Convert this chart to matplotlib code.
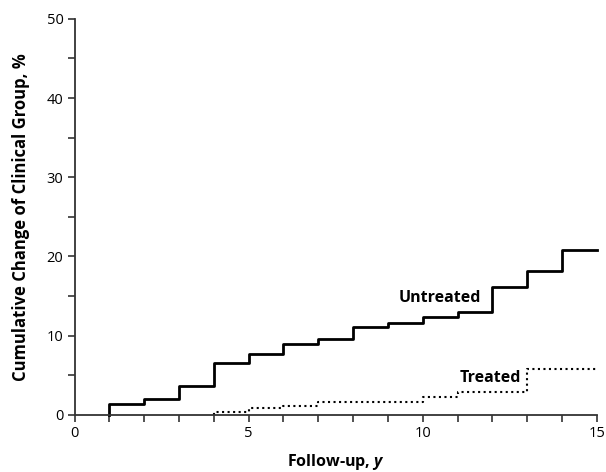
"""
Cumulative change of clinical group, untreated vs treated (step plot).
"""

import matplotlib
matplotlib.use("Agg")
from matplotlib import pyplot as plt
from matplotlib.ticker import MultipleLocator

plt.rcParams['font.family'] = ['Open Sans', 'DejaVu Sans']
plt.rcParams['mathtext.fontset'] = 'custom'
plt.rcParams['mathtext.it'] = 'Open Sans:italic:bold'

# follow-up year where each step begins, and cumulative % after the step
untreated_years = [1, 1, 2, 3, 4, 5, 6, 7, 8, 9, 10, 11, 12, 13, 14, 15]
untreated_pct = [0, 1.4, 2.0, 3.7, 6.5, 7.75, 9.0, 9.55, 11.1, 11.65, 12.3,
                 12.95, 16.2, 18.2, 20.8, 20.8]

treated_years = [4, 4, 5, 6, 7, 8, 9, 10, 11, 12, 13, 14, 15]
treated_pct = [0, 0.4, 0.85, 1.1, 1.65, 1.65, 1.65, 2.3, 2.85, 2.85, 5.75,
               5.75, 5.75]

xticks = [0, 5, 10, 15]
yticks = [0, 10, 20, 30, 40, 50]

fig = plt.figure(figsize=(6.06, 4.72), dpi=100)
ax = fig.add_axes([0.123, 0.121, 0.862, 0.839])

ax.step(untreated_years, untreated_pct, where='post', color='black',
        linewidth=2.0, clip_on=False)
ax.step(treated_years, treated_pct, where='post', color='black',
        linewidth=1.5, linestyle=':', clip_on=False)

# curve labels
ax.text(11.68, 14.8, "Untreated", ha='right', va='center',
        fontsize=11.5, fontweight='bold')
ax.text(12.82, 4.6, "Treated", ha='right', va='center',
        fontsize=11.5, fontweight='bold')

ax.set_xlim(0, 15)
ax.set_ylim(0, 50)
ax.set_xticks(xticks)
ax.set_yticks(yticks)
ax.xaxis.set_minor_locator(MultipleLocator(1))
ax.yaxis.set_minor_locator(MultipleLocator(5))
ax.tick_params(which='both', direction='out', length=5, width=1.2,
               color='#333333', labelsize=10.5, pad=3)

for side in ['top', 'right']:
    ax.spines[side].set_visible(False)
for side in ['left', 'bottom']:
    ax.spines[side].set_linewidth(1.3)
    ax.spines[side].set_color('#333333')

ax.set_xlabel(r"Follow-up, $y$", fontsize=11.5, fontweight='bold', labelpad=8)
ax.set_ylabel("Cumulative Change of Clinical Group, %", fontsize=12,
              fontweight='bold', labelpad=12)

plt.savefig("out.png", dpi=100)
